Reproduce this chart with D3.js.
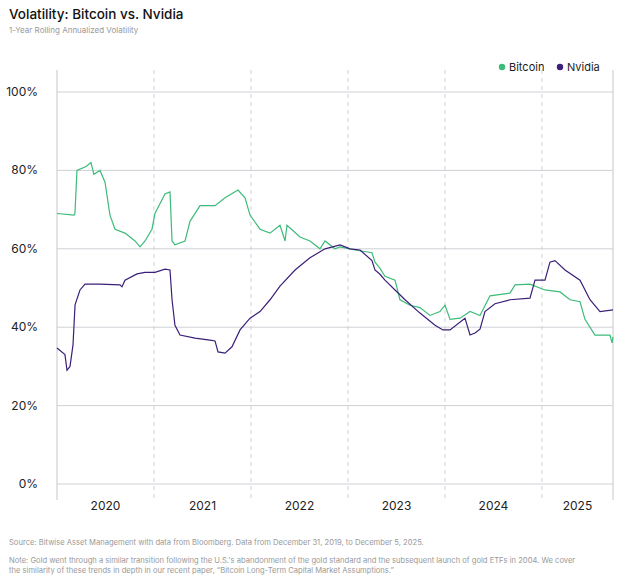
<!DOCTYPE html>
<html>
<head>
<meta charset="utf-8">
<script src="https://cdn.jsdelivr.net/npm/d3@7"></script>
<style>
  body { margin: 0; background: #fff; font-family: Inter, Roboto, sans-serif; }
  .tick text { font-size: 12px; fill: #222; }
</style>
</head>
<body>
<div id="chart"></div>
<script>
// years since Dec 31 2019 / values in %
const btcT = [0,.175,.185,.206,.30,.35,.38,.443,.495,.546,.598,.701,.804,.856,.907,.979,1.01,1.113,1.165,1.186,1.216,1.32,1.371,1.474,1.629,1.732,1.866,1.938,1.99,2.093,2.196,2.299,2.351,2.371,2.505,2.608,2.711,2.763,2.866,2.918,3.072,3.247,3.278,3.33,3.381,3.485,3.536,3.639,3.742,3.845,3.948,4.0,4.052,4.155,4.258,4.361,4.464,4.67,4.722,4.876,5.031,5.186,5.289,5.392,5.443,5.546,5.701,5.722,5.732];
const btcV = [69,68.6,69,80,81,82,79,80,77,68.6,65,64,62,60.5,62,65,69,74,74.5,62,61,62,67,71,71,73,75,73,68.6,65,64,66,62,66,63,62,60,62,60,60.5,59.7,59,56.6,55,53,52,47,45.6,45,43,44,45.6,42,42.3,44,43,48,48.7,50.8,51,49.5,49,47,46.5,42,38,38,36,37.5];
const nvdaT = [0,.082,.103,.134,.165,.186,.237,.289,.443,.649,.67,.701,.825,.907,1.01,1.113,1.165,1.186,1.216,1.268,1.423,1.577,1.629,1.66,1.732,1.804,1.887,1.99,2.093,2.196,2.299,2.454,2.608,2.763,2.918,3.021,3.124,3.247,3.278,3.33,3.381,3.485,3.588,3.742,3.897,3.979,4.052,4.206,4.258,4.309,4.361,4.412,4.515,4.67,4.876,4.928,5.031,5.082,5.134,5.237,5.392,5.495,5.598,5.732];
const nvdaV = [34.7,33,29,30,35.5,45.7,49.5,51,51,50.8,50.3,52,53.6,54,54,54.8,54.6,47,40.5,38,37.2,36.7,36.5,33.7,33.4,35,39.3,42.3,44,47,50.5,54.6,57.7,60,61,60,59.7,57,54.6,53.5,52,49.5,47,43.6,40.5,39.3,39.3,42.3,38,38.5,39.5,44,46,47,47.4,52,52,56.6,57,54.6,52,47,44,44.4];
const yTicks = [0, 20, 40, 60, 80, 100];
const years = [2020, 2021, 2022, 2023, 2024, 2025];

const width = 634, height = 583;
const margin = { top: 70, left: 57, right: 21, bottom: 99 };

const svg = d3.select("#chart").append("svg")
    .attr("width", width).attr("height", height);

const x = d3.scaleLinear().domain([0, 5.732]).range([margin.left, width - margin.right]);
const y = d3.scaleLinear().domain([0, 100]).range([484, 92]);

svg.append("text").attr("x", 9).attr("y", 19)
    .style("font-size", "13.5px").style("font-weight", 500).attr("fill", "#111")
    .text("Volatility: Bitcoin vs. Nvidia");
svg.append("text").attr("x", 9).attr("y", 33)
    .style("font-size", "8px").attr("fill", "#999")
    .text("1-Year Rolling Annualized Volatility");

// horizontal grid
svg.append("g").selectAll("line").data(yTicks).enter().append("line")
    .attr("x1", margin.left).attr("x2", width - margin.right)
    .attr("y1", d => y(d)).attr("y2", d => y(d))
    .attr("stroke", "#cfd1d6").attr("stroke-width", 1);

// year dividers
svg.append("g").selectAll("line").data(years.slice(1)).enter().append("line")
    .attr("x1", d => x(d - 2020)).attr("x2", d => x(d - 2020))
    .attr("y1", margin.top).attr("y2", 500)
    .attr("stroke", "#cfd1d6").attr("stroke-dasharray", "4,4");

// frame sides
[margin.left, width - margin.right].forEach(px => {
  svg.append("line").attr("x1", px).attr("x2", px)
      .attr("y1", margin.top).attr("y2", 500)
      .attr("stroke", "#cfd1d6").attr("stroke-width", 1.2);
});

// y labels
svg.append("g").selectAll("text").data(yTicks).enter().append("text")
    .attr("x", 38).attr("y", d => y(d) + 4).attr("text-anchor", "end")
    .style("font-size", "12px").attr("fill", "#222")
    .text(d => d + "%");

// year labels
svg.append("g").selectAll("text").data(years).enter().append("text")
    .attr("x", d => x(Math.min(d - 2020 + 0.5, (d - 2020 + 5.732) / 2)))
    .attr("y", 510).attr("text-anchor", "middle")
    .style("font-size", "12px").attr("fill", "#222")
    .text(d => d);

const line = d3.line().x(d => x(d[0])).y(d => y(d[1]));
svg.append("path").datum(d3.zip(btcT, btcV)).attr("d", line)
    .attr("fill", "none").attr("stroke", "#3dbb7a").attr("stroke-width", 1.2);
svg.append("path").datum(d3.zip(nvdaT, nvdaV)).attr("d", line)
    .attr("fill", "none").attr("stroke", "#3b1f78").attr("stroke-width", 1.2);

// legend
const legend = [["Bitcoin", "#3dbb7a", 502], ["Nvidia", "#3b1f78", 560]];
legend.forEach(([name, c, lx]) => {
  svg.append("circle").attr("cx", lx).attr("cy", 67).attr("r", 3.2).attr("fill", c);
  svg.append("text").attr("x", lx + 7).attr("y", 71)
      .style("font-size", "11px").attr("fill", "#222").text(name);
});

// notes
svg.append("text").attr("x", 9).attr("y", 545)
    .style("font-size", "7.6px").attr("fill", "#999")
    .text("Source: Bitwise Asset Management with data from Bloomberg. Data from December 31, 2019, to December 5, 2025.");
svg.append("text").attr("x", 9).attr("y", 563)
    .style("font-size", "7.6px").attr("fill", "#999")
    .text("Note: Gold went through a similar transition following the U.S.'s abandonment of the gold standard and the subsequent launch of gold ETFs in 2004. We cover");
svg.append("text").attr("x", 9).attr("y", 573)
    .style("font-size", "7.6px").attr("fill", "#999")
    .text("the similarity of these trends in depth in our recent paper, \u201cBitcoin Long-Term Capital Market Assumptions.\u201d");
</script>
</body>
</html>
